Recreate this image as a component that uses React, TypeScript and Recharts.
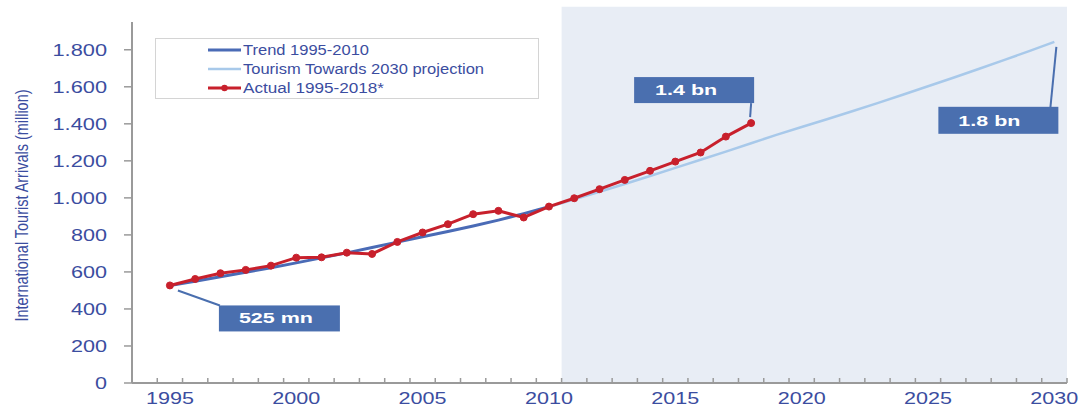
import React from "react";
import {
  LineChart,
  Line,
  XAxis,
  YAxis,
  ReferenceArea,
  ReferenceDot,
  Legend,
} from "recharts";

// ---------- DATA ----------
const actualYears = [1995, 1996, 1997, 1998, 1999, 2000, 2001, 2002, 2003, 2004, 2005, 2006, 2007, 2008, 2009, 2010, 2011, 2012, 2013, 2014, 2015, 2016, 2017, 2018];
const actualValues = [527, 562, 593, 611, 634, 677, 679, 704, 697, 762, 813, 858, 912, 930, 894, 953, 998, 1047, 1097, 1146, 1196, 1245, 1331, 1404];

const trendYears = [1995, 1996, 1997, 1998, 1999, 2000, 2001, 2002, 2003, 2004, 2005, 2006, 2007, 2008, 2009, 2010];
const trendValues = [527, 550, 574, 598, 623, 649, 676, 703, 732, 761, 790, 818, 848, 880, 915, 952];

const projectionYears = [2010, 2011, 2012, 2013, 2014, 2015, 2016, 2017, 2018, 2019, 2020, 2021, 2022, 2023, 2024, 2025, 2026, 2027, 2028, 2029, 2030];
const projectionValues = [950, 992, 1033, 1075, 1118, 1162, 1206, 1250, 1295, 1340, 1383, 1425, 1468, 1512, 1557, 1603, 1649, 1696, 1744, 1793, 1843];

const xLabelYears = [1995, 2000, 2005, 2010, 2015, 2020, 2025, 2030];
const yTicks = [0, 200, 400, 600, 800, 1000, 1200, 1400, 1600, 1800];
const yTickLabels = ["0", "200", "400", "600", "800", "1.000", "1.200", "1.400", "1.600", "1.800"];

const seriesNames = {
  trend: "Trend 1995-2010",
  projection: "Tourism Towards 2030 projection",
  actual: "Actual 1995-2018*",
};
const calloutTexts = { start: "525 mn", actualEnd: "1.4 bn", projectionEnd: "1.8 bn" };
const yAxisTitle = "International Tourist Arrivals (million)";
const shadedRange = [2010.5, 2030.5];

// ---------- TABLE ----------
const allYears = Array.from(new Set([...actualYears, ...trendYears, ...projectionYears])).sort((a, b) => a - b);
const data = allYears.map((year) => {
  const ai = actualYears.indexOf(year);
  const ti = trendYears.indexOf(year);
  const pi = projectionYears.indexOf(year);
  return {
    year,
    actual: ai >= 0 ? actualValues[ai] : undefined,
    trend: ti >= 0 ? trendValues[ti] : undefined,
    projection: pi >= 0 ? projectionValues[pi] : undefined,
  };
});

const xMin = 1993.5;
const xMax = 2030.5;
const boundaryTicks: number[] = [];
for (let v = xMin; v <= xMax; v += 1) boundaryTicks.push(v);
const xTicks = [...boundaryTicks, ...xLabelYears];

// ---------- STYLE ----------
const FONT = "'Liberation Sans', Arial, Helvetica, sans-serif";
const TEXT_BLUE = "#3B4DA0";
const AXIS_GREY = "#9A9A9A";
const RED = "#C8202C";
const TREND_BLUE = "#4A6BB6";
const PROJ_BLUE = "#A8C9EA";
const BOX_BLUE = "#4A6FAF";
const SHADE = "#E8EDF5";

const labelWidth = (s: string, digitW: number, dotW: number) =>
  s.split("").reduce((w, c) => w + (c === "." ? dotW : digitW), 0);

const XTick = (props: any) => {
  const { x, y, payload } = props;
  const v = payload.value;
  if (Math.abs(v - Math.round(v)) > 0.01) {
    return <line x1={x} x2={x} y1={y} y2={y - 5} stroke={AXIS_GREY} strokeWidth={1.5} />;
  }
  return (
    <text
      x={x}
      y={y + 21}
      textAnchor="middle"
      fill={TEXT_BLUE}
      fontFamily={FONT}
      fontSize={17}
      textLength={48}
      lengthAdjust="spacingAndGlyphs"
    >
      {String(v)}
    </text>
  );
};

const YTick = (props: any) => {
  const { x, y, payload } = props;
  const idx = yTicks.indexOf(payload.value);
  const label = idx >= 0 ? yTickLabels[idx] : String(payload.value);
  return (
    <text
      x={x}
      y={y + 6}
      textAnchor="end"
      fill={TEXT_BLUE}
      fontFamily={FONT}
      fontSize={16}
      textLength={labelWidth(label, 12, 6.5)}
      lengthAdjust="spacingAndGlyphs"
    >
      {label}
    </text>
  );
};

const YTitle = (props: any) => {
  const vb = props.viewBox || { x: 0, y: 22, width: 132, height: 361 };
  const cx = 21;
  const cy = vb.y + vb.height / 2 + 3;
  return (
    <text
      x={cx}
      y={cy}
      dy={7}
      transform={`rotate(-90, ${cx}, ${cy})`}
      textAnchor="middle"
      fill={TEXT_BLUE}
      fontFamily={FONT}
      fontSize={19}
      textLength={232}
      lengthAdjust="spacingAndGlyphs"
    >
      {yAxisTitle}
    </text>
  );
};

const LegendBox = () => {
  const rows = [
    { name: seriesNames.trend, color: TREND_BLUE, w: 3, dot: false, len: 126 },
    { name: seriesNames.projection, color: PROJ_BLUE, w: 2.5, dot: false, len: 241 },
    { name: seriesNames.actual, color: RED, w: 3, dot: true, len: 141 },
  ];
  return (
    <svg width={384} height={61} style={{ display: "block" }}>
      <rect x={0.5} y={0.5} width={383} height={60} fill="#FFFFFF" stroke="#D4D4D4" strokeWidth={1} />
      {rows.map((r, i) => {
        const cy = 12 + i * 19;
        return (
          <g key={r.name}>
            <line x1={53} x2={86} y1={cy} y2={cy} stroke={r.color} strokeWidth={r.w} />
            {r.dot && <circle cx={69.5} cy={cy} r={3.2} fill={r.color} />}
            <text
              x={88}
              y={cy + 5}
              fill={TEXT_BLUE}
              fontFamily={FONT}
              fontSize={14}
              textLength={r.len}
              lengthAdjust="spacingAndGlyphs"
            >
              {r.name}
            </text>
          </g>
        );
      })}
    </svg>
  );
};

const BoxText = ({ x, y, text, len }: { x: number; y: number; text: string; len: number }) => (
  <text
    x={x}
    y={y}
    textAnchor="middle"
    fill="#FFFFFF"
    fontFamily={FONT}
    fontWeight="bold"
    fontSize={15}
    textLength={len}
    lengthAdjust="spacingAndGlyphs"
  >
    {text}
  </text>
);

const CalloutStart = (p: any) => {
  const { cx, cy } = p;
  return (
    <g>
      <line x1={cx + 8} y1={cy + 5} x2={cx + 50} y2={cy + 20} stroke={BOX_BLUE} strokeWidth={2} />
      <rect x={cx + 49} y={cy + 20} width={121} height={26} fill={BOX_BLUE} />
      <BoxText x={cx + 106} y={cy + 38} text={calloutTexts.start} len={74} />
    </g>
  );
};

const CalloutActualEnd = (p: any) => {
  const { cx, cy } = p;
  return (
    <g>
      <line x1={cx} y1={cy - 20} x2={cx - 1} y2={cy - 6} stroke={BOX_BLUE} strokeWidth={2} />
      <rect x={cx - 117} y={cy - 46} width={120} height={26} fill={BOX_BLUE} />
      <BoxText x={cx - 65} y={cy - 28} text={calloutTexts.actualEnd} len={62} />
    </g>
  );
};

const CalloutProjEnd = (p: any) => {
  const { cx, cy } = p;
  return (
    <g>
      <line x1={cx + 2} y1={cy + 5} x2={cx - 4} y2={cy + 66} stroke={BOX_BLUE} strokeWidth={2} />
      <rect x={cx - 116} y={cy + 65} width={120} height={27} fill={BOX_BLUE} />
      <BoxText x={cx - 65} y={cy + 84} text={calloutTexts.projectionEnd} len={62} />
    </g>
  );
};

export default function App() {
  const lastA = actualValues.length - 1;
  const lastP = projectionValues.length - 1;
  return (
    <div style={{ position: "absolute", left: 0, top: 0, width: 1083, height: 412, background: "#FFFFFF" }}>
      <LineChart
        width={1083}
        height={412}
        data={data}
        margin={{ top: 22, right: 16, bottom: 0, left: 0 }}
      >
        <ReferenceArea
          x1={shadedRange[0]}
          x2={shadedRange[1]}
          y1={0}
          y2={2032}
          ifOverflow="visible"
          fill={SHADE}
          fillOpacity={1}
          stroke="none"
        />
        <XAxis
          dataKey="year"
          type="number"
          domain={[xMin, xMax]}
          ticks={xTicks}
          interval={0}
          tickLine={false}
          tickSize={0}
          tickMargin={0}
          height={29}
          axisLine={{ stroke: AXIS_GREY, strokeWidth: 2 }}
          tick={(props: any) => <XTick {...props} />}
          allowDataOverflow
        />
        <YAxis
          type="number"
          domain={[0, 1950]}
          ticks={yTicks}
          interval={0}
          width={132}
          tickSize={8}
          tickMargin={17}
          axisLine={{ stroke: AXIS_GREY, strokeWidth: 2 }}
          tickLine={{ stroke: AXIS_GREY, strokeWidth: 1.5 }}
          tick={(props: any) => <YTick {...props} />}
          label={{ content: (props: any) => <YTitle {...props} /> }}
          allowDataOverflow
        />
        <Legend
          layout="vertical"
          align="center"
          verticalAlign="middle"
          content={() => <LegendBox />}
          wrapperStyle={{ left: 155, top: 38, width: 384, height: 61 }}
        />
        <Line
          type="linear"
          dataKey="trend"
          name={seriesNames.trend}
          stroke={TREND_BLUE}
          strokeWidth={3}
          dot={false}
          isAnimationActive={false}
        />
        <Line
          type="linear"
          dataKey="projection"
          name={seriesNames.projection}
          stroke={PROJ_BLUE}
          strokeWidth={2.5}
          dot={false}
          isAnimationActive={false}
        />
        <Line
          type="linear"
          dataKey="actual"
          name={seriesNames.actual}
          stroke={RED}
          strokeWidth={3}
          dot={{ r: 3.5, fill: RED, stroke: RED, strokeWidth: 1 }}
          isAnimationActive={false}
        />
        <ReferenceDot
          x={actualYears[0]}
          y={actualValues[0]}
          r={4}
          ifOverflow="visible"
          shape={(p: any) => <CalloutStart {...p} />}
        />
        <ReferenceDot
          x={actualYears[lastA]}
          y={actualValues[lastA]}
          r={4}
          ifOverflow="visible"
          shape={(p: any) => <CalloutActualEnd {...p} />}
        />
        <ReferenceDot
          x={projectionYears[lastP]}
          y={projectionValues[lastP]}
          r={4}
          ifOverflow="visible"
          shape={(p: any) => <CalloutProjEnd {...p} />}
        />
      </LineChart>
    </div>
  );
}
